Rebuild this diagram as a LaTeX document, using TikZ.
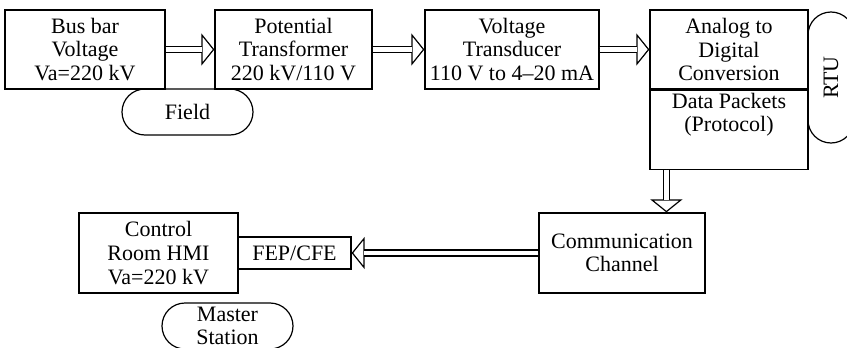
\documentclass[tikz,border=0pt]{standalone}
\usepackage{fontspec}
\setmainfont{Liberation Serif}
\usetikzlibrary{shapes.misc,arrows.meta}
\newcommand{\hollowarrow}[2]{%
  \draw[shafttip] #1 -- #2;
  \draw[shaft] #1 -- #2;}

\begin{document}
\begin{tikzpicture}[x=0.5pt,y=-0.5pt,every node/.style={font=\fontsize{11}{11.8}\selectfont,align=center,inner sep=1pt},block/.style={draw,line width=0.6pt,rectangle},pill/.style={draw,line width=0.6pt,rounded rectangle,minimum width=67.5pt,minimum height=23pt},shaft/.style={line width=0.6pt,double distance=2.4pt,shorten >=6.2pt},shafttip/.style={draw=white,line width=0.6pt,-{Triangle[open,length=6.5pt,width=16pt,line width=0.6pt,color=black]}}]
\useasboundingbox (0,0) rectangle (847,348);
\node[block,minimum width=80pt,minimum height=39.5pt] (bus) at (85,49.5) {Bus bar\\Voltage\\Va=220 kV};
\node[block,minimum width=78.5pt,minimum height=39.5pt] (pt) at (293.5,49.5) {Potential\\Transformer\\220 kV/110 V};
\node[block,minimum width=87pt,minimum height=39.5pt] (vt) at (512,49.5) {Voltage\\Transducer\\110 V to 4--20 mA};
\node[block,minimum width=79pt,minimum height=39.5pt] (adc) at (729,49.5) {Analog to\\Digital\\Conversion};
\node[block,minimum width=79pt,minimum height=39.5pt,anchor=north] (dp) at (adc.south) {};
\node[anchor=north] (dptext) at ([yshift=-0.5pt]dp.north) {Data Packets\\(Protocol)};
\node[pill,rotate=90] (rtu) at (831,77.5) {RTU};
\node[pill] (field) at (187.5,112) {Field};
\node[block,minimum width=83pt,minimum height=40pt] (comm) at (622,253) {Communication\\Channel};
\node[block,minimum width=79.5pt,minimum height=40pt] (ctrl) at (158.5,253) {Control\\Room HMI\\Va=220 kV};
\node[block,minimum width=56.5pt,minimum height=16pt] (fep) at (294.5,253) {FEP/CFE};
\node[pill] (master) at (227.5,326) {Master\\Station};
\hollowarrow{(bus)}{(pt)}
\hollowarrow{(pt)}{(vt)}
\hollowarrow{(vt)}{(adc)}
\hollowarrow{([xshift=8.5pt]dp.south west)}{([xshift=8.5pt]dp.south west |- comm.north)}
\hollowarrow{(comm)}{(fep)}
\end{tikzpicture}
\end{document}
